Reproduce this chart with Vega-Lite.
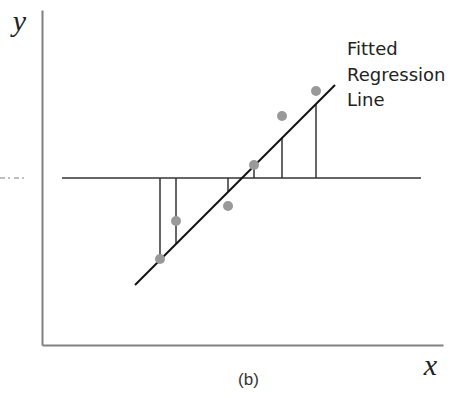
{
  "$schema": "https://vega.github.io/schema/vega-lite/v6.json",
  "width": 401,
  "height": 335,
  "autosize": "none",
  "padding": {"left": 42, "top": 10, "right": 15, "bottom": 53},
  "background": "white",
  "config": {"view": {"stroke": null}},
  "title": {"text": "(b)", "orient": "bottom", "anchor": "middle", "font": "Liberation Sans", "fontSize": 17, "fontWeight": "normal", "color": "#333", "offset": -8, "dx": 6, "frame": "group"},
  "datasets": {
    "obs": [
      {"x": 118, "y": 86, "fit": 85, "mean": 167},
      {"x": 134, "y": 124, "fit": 101, "mean": 167},
      {"x": 186, "y": 139, "fit": 153, "mean": 167},
      {"x": 212, "y": 180, "fit": 179, "mean": 167},
      {"x": 240, "y": 229, "fit": 207, "mean": 167},
      {"x": 274, "y": 254, "fit": 241, "mean": 167}
    ],
    "regline": [
      {"x": 93, "y": 60},
      {"x": 293, "y": 260}
    ],
    "meanline": [
      {"x": 20, "x2": 379, "y": 167}
    ],
    "meantick": [
      {"x": -42, "x2": -15, "y": 167}
    ],
    "note": [
      {"x": 305, "y": 290}
    ]
  },
  "layer": [
    {
      "data": {"name": "meanline"},
      "mark": {"type": "rule", "color": "#333", "strokeWidth": 1.5},
      "encoding": {
        "x": {"field": "x", "type": "quantitative", "scale": {"domain": [0, 401], "nice": false, "zero": false},
          "axis": {"domain": true, "domainColor": "#808080", "domainWidth": 2, "ticks": false, "labels": false, "grid": false,
            "title": "x", "titleFont": "Liberation Serif", "titleFontStyle": "italic", "titleFontWeight": "normal", "titleFontSize": 30, "titleColor": "#222",
            "titleX": 388, "titleY": 29, "titleAlign": "center", "titleBaseline": "alphabetic"}},
        "x2": {"field": "x2"},
        "y": {"field": "y", "type": "quantitative", "scale": {"domain": [0, 335], "nice": false, "zero": false},
          "axis": {"domain": true, "domainColor": "#808080", "domainWidth": 2, "ticks": false, "labels": false, "grid": false,
            "title": "y", "titleFont": "Liberation Serif", "titleFontStyle": "italic", "titleFontWeight": "normal", "titleFontSize": 30, "titleColor": "#222",
            "titleX": -23, "titleY": 20, "titleAngle": 0, "titleAlign": "center", "titleBaseline": "alphabetic"}}
      }
    },
    {
      "data": {"name": "meantick"},
      "mark": {"type": "rule", "color": "#aaa", "strokeWidth": 1.5, "strokeDash": [5, 3, 2, 4]},
      "encoding": {
        "x": {"field": "x", "type": "quantitative"},
        "x2": {"field": "x2"},
        "y": {"field": "y", "type": "quantitative"}
      }
    },
    {
      "data": {"name": "obs"},
      "mark": {"type": "rule", "color": "#333", "strokeWidth": 1.5},
      "encoding": {
        "x": {"field": "x", "type": "quantitative"},
        "y": {"field": "fit", "type": "quantitative"},
        "y2": {"field": "mean"}
      }
    },
    {
      "data": {"name": "regline"},
      "mark": {"type": "line", "color": "#111", "strokeWidth": 2},
      "encoding": {
        "x": {"field": "x", "type": "quantitative"},
        "y": {"field": "y", "type": "quantitative"}
      }
    },
    {
      "data": {"name": "obs"},
      "mark": {"type": "circle", "color": "#999", "opacity": 1, "size": 100},
      "encoding": {
        "x": {"field": "x", "type": "quantitative"},
        "y": {"field": "y", "type": "quantitative"}
      }
    },
    {
      "data": {"name": "note"},
      "mark": {"type": "text", "text": ["Fitted", "Regression", "Line"], "font": "DejaVu Sans", "fontSize": 18, "align": "left", "baseline": "alphabetic", "lineHeight": 25.5, "color": "#222"},
      "encoding": {
        "x": {"field": "x", "type": "quantitative"},
        "y": {"field": "y", "type": "quantitative"}
      }
    }
  ]
}
